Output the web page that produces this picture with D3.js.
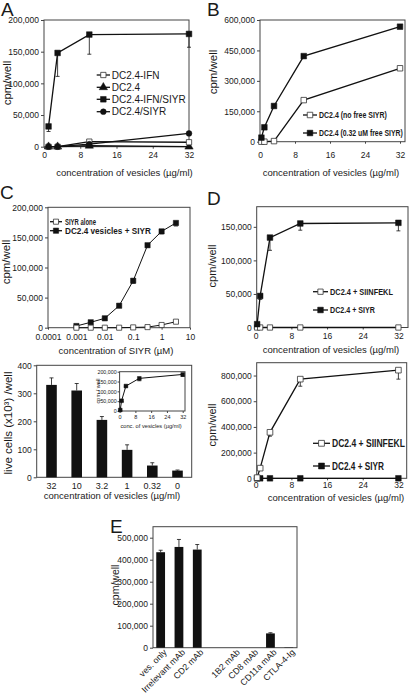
<!DOCTYPE html>
<html><head><meta charset="utf-8">
<script src="https://cdn.jsdelivr.net/npm/d3@7"></script>
<style>
body{margin:0;background:#fff;}
text{font-family:"Liberation Sans",Arial,sans-serif;fill:#1a1a1a;}
</style></head>
<body>
<script>
// ---------- DATA ----------
// Panel A
const aX = [1, 3, 10, 32];
const aIFN = [0, 0, 8000, 7000];
const aDC = [0, 0, 1500, 0];
const aIFNSIYR = [32000, 148000, 177000, 178000];
const aIFNSIYRerr = [8000, 37000, 31000, 21000];
const aSIYR = [0, 0, 4000, 21000];
const aLegend = ["DC2.4-IFN", "DC2.4", "DC2.4-IFN/SIYR", "DC2.4/SIYR"];
// Panel B
const bX = [0.32, 1, 3.2, 10, 32];
const bNoFree = [0, 0, 3000, 205000, 362000];
const bNoFreeErr = [0, 0, 0, 8000, 10000];
const bFree = [20000, 71000, 176000, 422000, 567000];
const bLegend = ["DC2.4 (no free SIYR)", "DC2.4 (0.32 uM free SIYR)"];
// Panel C (top)
const cX = [0.001, 0.0032, 0.01, 0.032, 0.1, 0.32, 1, 3.2];
const cAlone = [0, 0, 0, 0, 500, 1000, 4500, 10000];
const cVes = [2800, 9000, 15600, 36500, 78000, 137000, 160000, 174000];
const cVesErr = [500, 1000, 1000, 2000, 4000, 3000, 4000, 5000];
const cLegend = ["SIYR alone", "DC2.4 vesicles + SIYR"];
const cXTicks = [0.0001, 0.001, 0.01, 0.1, 1, 10];
const cXTickLabels = ["0.0001", "0.001", "0.01", "0.1", "1", "10"];
// Panel C (bottom bars)
const cBarCats = ["32", "10", "3.2", "1", "0.32", "0"];
const cBarVals = [330, 310, 205, 98, 42, 24];
const cBarErr = [25, 25, 12, 18, 10, 2];
// Inset
const inX = [0.32, 1, 3.2, 10, 32];
const inVals = [5000, 52000, 127000, 166000, 186000];
const inErr = [2000, 3000, 4000, 12000, 10000];
// Panel D (top)
const dX = [0.32, 1, 3.2, 10, 32];
const dSIINFEKL = [0, 0, 0, 0, 0];
const dSIYR = [5000, 47000, 134000, 155000, 156000];
const dSIYRerr = [1000, 5000, 19000, 10000, 12000];
// Panel D (bottom)
const d2SIINFEKL = [5000, 79000, 358000, 772000, 842000];
const d2SIINFEKLerr = [2000, 15000, 30000, 55000, 70000];
const d2SIYR = [0, 0, 0, 0, 0];
const dLegend = ["DC2.4 + SIINFEKL", "DC2.4 + SIYR"];
// Panel E
const eCats = ["ves. only", "Irrelevant mAb", "CD2 mAb", "", "1B2 mAb", "CD8 mAb", "CD11a mAb", "CTLA-4-Ig"];
const eVals = [434000, 458000, 446000, null, 0, 0, 65000, 1500];
const eErr = [9000, 34000, 23000, null, 0, 0, 3000, 0];

const linTicks = [0, 8, 16, 24, 32];
const xTitleVes = "concentration of vesicles (\u00b5g/ml)";

// ---------- DRAW ----------
const svg = d3.select("body").append("svg").attr("width", 410).attr("height", 696);
const fmt = d3.format(",");
const INK = "#111";

function frame(g, l, r, t, b) {
  g.append("rect").attr("x", l).attr("y", t).attr("width", r - l).attr("height", b - t)
    .attr("fill", "none").attr("stroke", "#444").attr("stroke-width", 1);
}
function styleAxis(sel, fs) {
  sel.select(".domain").remove();
  sel.selectAll("line").attr("stroke", "#444");
  sel.selectAll("text").attr("font-size", fs).attr("fill", "#1a1a1a")
    .style("font-family", '"Liberation Sans",Arial,sans-serif');
}
function symbolPath(kind, size) {
  const t = kind === "tri" ? d3.symbolTriangle : kind === "circle" ? d3.symbolCircle : d3.symbolSquare;
  return d3.symbol().type(t).size(size)();
}
function drawSeries(g, x, y, xs, ys, opt) {
  const pts = xs.map((d, i) => [x(d), y(ys[i])]);
  g.append("path").attr("d", d3.line()(pts)).attr("fill", "none")
    .attr("stroke", INK).attr("stroke-width", opt.lw || 1.3);
  if (opt.err) {
    opt.err.forEach((e, i) => {
      if (!e) return;
      const px = x(xs[i]), y0 = y(ys[i]), y1 = y(ys[i] - e);
      g.append("line").attr("x1", px).attr("x2", px).attr("y1", y0).attr("y2", y1).attr("stroke", INK).attr("stroke-width", 0.8);
      g.append("line").attr("x1", px - 2).attr("x2", px + 2).attr("y1", y1).attr("y2", y1).attr("stroke", INK).attr("stroke-width", 0.8);
    });
  }
  pts.forEach(p => {
    g.append("path").attr("d", symbolPath(opt.sym, opt.size || 30))
      .attr("transform", `translate(${p[0]},${p[1]})`)
      .attr("fill", opt.open ? "#fff" : INK).attr("stroke", opt.open ? "#333" : INK).attr("stroke-width", opt.open ? 0.8 : 0.5);
  });
}
function legendItem(g, x1, x2, yy, opt, label, tx, fs, bold, tlen) {
  g.append("line").attr("x1", x1).attr("x2", x2).attr("y1", yy).attr("y2", yy).attr("stroke", INK).attr("stroke-width", 1.3);
  g.append("path").attr("d", symbolPath(opt.sym, opt.size || 30)).attr("transform", `translate(${(x1 + x2) / 2},${yy})`)
    .attr("fill", opt.open ? "#fff" : INK).attr("stroke", opt.open ? "#333" : INK).attr("stroke-width", opt.open ? 0.8 : 0.5);
  const t = g.append("text").attr("x", 0).attr("y", 0).attr("dy", "0.35em").attr("font-size", fs)
    .attr("font-weight", bold ? "bold" : "normal").text(label)
    .attr("transform", `translate(${tx},${yy})`);
  if (tlen) {
    const w = t.node().getComputedTextLength();
    t.attr("transform", `translate(${tx},${yy}) scale(${tlen / w},1)`);
  }
}
function yTitle(g, x, y, label, fs) {
  g.append("text").attr("transform", `translate(${x},${y}) rotate(-90)`).attr("text-anchor", "middle")
    .attr("dy", "0.35em").attr("font-size", fs).text(label);
}
function xTitle(g, x, y, label, fs) {
  g.append("text").attr("x", x).attr("y", y).attr("text-anchor", "middle").attr("font-size", fs).text(label);
}
function letter(x, y, L) {
  svg.append("text").attr("x", x).attr("y", y).attr("font-size", 19).text(L);
}

// ===== Panel A =====
{
  const g = svg.append("g");
  const L = 44, R = 189, T = 20, B = 146.7;
  const x = d3.scaleLinear().domain([0, 32]).range([L, 189]);
  const y = d3.scaleLinear().domain([0, 200000]).range([B, T]);
  frame(g, L, R, T, B);
  g.append("g").attr("transform", `translate(${L},0)`).call(d3.axisLeft(y).tickValues([0, 50000, 100000, 150000, 200000]).tickFormat(fmt).tickSize(3).tickPadding(2)).call(s => styleAxis(s, 8.5));
  g.append("g").attr("transform", `translate(0,${B})`).call(d3.axisBottom(x).tickValues(linTicks).tickSize(2).tickPadding(3)).call(s => styleAxis(s, 8.5));
  drawSeries(g, x, y, aX, aDC, { sym: "tri", size: 30 });
  drawSeries(g, x, y, aX, aIFN, { sym: "square", open: true, size: 28 });
  drawSeries(g, x, y, aX, aSIYR, { sym: "circle", size: 26 });
  drawSeries(g, x, y, aX, aIFNSIYR, { sym: "square", size: 32, err: aIFNSIYRerr });
  const ly = [75, 87.3, 99.3, 111.7];
  const lo = [{ sym: "square", open: true, size: 28 }, { sym: "tri", size: 30 }, { sym: "square", size: 32 }, { sym: "circle", size: 26 }];
  aLegend.forEach((t, i) => legendItem(g, 96.7, 110, ly[i], lo[i], t, 111.7, 10, false));
  yTitle(g, 7, 83, "cpm/well", 11.5);
  xTitle(g, 124.5, 176, xTitleVes, 9.5);
  letter(1, 16, "A");
}
// ===== Panel B =====
{
  const g = svg.append("g");
  const L = 260, R = 405, T = 20, B = 141.7;
  const x = d3.scaleLinear().domain([0, 32]).range([L, 400]);
  const y = d3.scaleLinear().domain([0, 600000]).range([B, T]);
  frame(g, L, R, T, B);
  g.append("g").attr("transform", `translate(${L},0)`).call(d3.axisLeft(y).tickValues([0, 150000, 300000, 450000, 600000]).tickFormat(fmt).tickSize(3).tickPadding(2)).call(s => styleAxis(s, 8.5));
  g.append("g").attr("transform", `translate(0,${B})`).call(d3.axisBottom(x).tickValues(linTicks).tickSize(2).tickPadding(8)).call(s => styleAxis(s, 8.5));
  drawSeries(g, x, y, bX, bNoFree, { sym: "square", open: true, size: 30, err: bNoFreeErr });
  drawSeries(g, x, y, bX, bFree, { sym: "square", size: 32 });
  legendItem(g, 303, 317, 115, { sym: "square", open: true, size: 30 }, bLegend[0], 319, 9, true, 68);
  legendItem(g, 303, 317, 133, { sym: "square", size: 32 }, bLegend[1], 319, 9, true, 84);
  yTitle(g, 213, 72, "cpm/well", 11.5);
  xTitle(g, 331, 176, xTitleVes, 9.5);
  letter(207, 16, "B");
}
// ===== Panel C top =====
{
  const g = svg.append("g");
  const L = 48, R = 190, T = 207.3, B = 327.7;
  const x = d3.scaleLog().domain([0.0001, 10]).range([L, R]);
  const y = d3.scaleLinear().domain([0, 200000]).range([B, T]);
  frame(g, L, R, T, B);
  g.append("g").attr("transform", `translate(${L},0)`).call(d3.axisLeft(y).tickValues([0, 50000, 100000, 150000, 200000]).tickFormat(fmt).tickSize(3).tickPadding(2)).call(s => styleAxis(s, 8.5));
  g.append("g").attr("transform", `translate(0,${B})`).call(d3.axisBottom(x).tickValues(cXTicks).tickFormat((d, i) => cXTickLabels[i]).tickSize(2).tickPadding(4)).call(s => styleAxis(s, 8.5));
  drawSeries(g, x, y, cX, cVes, { sym: "square", size: 28, lw: 1, err: cVesErr });
  drawSeries(g, x, y, cX, cAlone, { sym: "square", open: true, size: 26, lw: 1 });
  legendItem(g, 50, 62, 221.7, { sym: "square", open: true, size: 26 }, cLegend[0], 65, 8.5, true, 31);
  legendItem(g, 50, 62, 230.7, { sym: "square", size: 28 }, cLegend[1], 65, 8.5, true, 86);
  yTitle(g, 6, 262, "cpm/well", 11.5);
  xTitle(g, 116, 354, "concentration of SIYR (\u00b5M)", 9.5);
  letter(0, 199, "C");
}
// ===== Panel C bottom (bars) =====
{
  const g = svg.append("g");
  const L = 36.7, R = 191.7, T = 365.3, B = 477.3;
  const x = d3.scaleBand().domain(cBarCats).range([38.9, 190.1]).paddingInner(0.58).paddingOuter(0.29);
  const y = d3.scaleLinear().domain([0, 400]).range([B, T]);
  frame(g, L, R, T, B);
  g.append("g").attr("transform", `translate(${L},0)`).call(d3.axisLeft(y).tickValues([0, 100, 200, 300, 400]).tickSize(3).tickPadding(2)).call(s => styleAxis(s, 8.5));
  g.append("g").attr("transform", `translate(0,${B})`).call(d3.axisBottom(x).tickSize(0).tickPadding(5)).call(s => styleAxis(s, 9));
  cBarCats.forEach((c, i) => {
    const cx = x(c) + x.bandwidth() / 2;
    g.append("line").attr("x1", cx).attr("x2", cx).attr("y1", y(cBarVals[i])).attr("y2", y(cBarVals[i] + cBarErr[i])).attr("stroke", INK).attr("stroke-width", 0.8);
    g.append("line").attr("x1", cx - 2).attr("x2", cx + 2).attr("y1", y(cBarVals[i] + cBarErr[i])).attr("y2", y(cBarVals[i] + cBarErr[i])).attr("stroke", INK).attr("stroke-width", 0.8);
    g.append("rect").attr("x", x(c)).attr("width", x.bandwidth()).attr("y", y(cBarVals[i])).attr("height", B - y(cBarVals[i])).attr("fill", INK);
  });
  yTitle(g, 8, 423, "live cells (x10\u00b3) /well", 11.5);
  xTitle(g, 112, 499, xTitleVes, 9.5);
  // inset
  const iL = 119.6, iR = 185, iT = 371.7, iB = 411;
  const ix = d3.scaleLinear().domain([0, 32]).range([iL, 182.7]);
  const iy = d3.scaleLinear().domain([0, 200000]).range([iB, iT]);
  frame(g, iL, iR, iT, iB);
  g.append("g").attr("transform", `translate(${iL},0)`).call(d3.axisLeft(iy).tickValues([0, 50000, 100000, 150000, 200000]).tickFormat(fmt).tickSize(2).tickPadding(1)).call(s => styleAxis(s, 5.3));
  g.append("g").attr("transform", `translate(0,${iB})`).call(d3.axisBottom(ix).tickValues(linTicks).tickSize(2).tickPadding(2)).call(s => styleAxis(s, 5.5));
  drawSeries(g, ix, iy, inX, inVals, { sym: "square", size: 14, lw: 1, err: inErr });
  yTitle(g, 98, 391, "cpm / well", 5.6);
  xTitle(g, 151, 428, "conc. of vesicles (\u00b5g/ml)", 5.7);
}
// ===== Panel D top =====
{
  const g = svg.append("g");
  const L = 256.7, R = 408, T = 206.7, B = 327.5;
  const x = d3.scaleLinear().domain([0, 32]).range([255.7, 398.4]);
  const y = d3.scaleLinear().domain([0, 180000]).range([B, T]);
  frame(g, L, R, T, B);
  g.append("g").attr("transform", `translate(${L},0)`).call(d3.axisLeft(y).tickValues([0, 50000, 100000, 150000]).tickFormat(fmt).tickSize(3).tickPadding(2)).call(s => styleAxis(s, 8.5));
  g.append("g").attr("transform", `translate(0,${B})`).call(d3.axisBottom(x).tickValues(linTicks).tickSize(2).tickPadding(3)).call(s => styleAxis(s, 8.5));
  drawSeries(g, x, y, dX, dSIINFEKL, { sym: "square", open: true, size: 28 });
  drawSeries(g, x, y, dX, dSIYR, { sym: "square", size: 32, err: dSIYRerr });
  legendItem(g, 313, 328, 291.7, { sym: "square", open: true, size: 28 }, dLegend[0], 330, 8.5, true, 63);
  legendItem(g, 313, 328, 310, { sym: "square", size: 32 }, dLegend[1], 330, 8.5, true, 45);
  yTitle(g, 212, 266, "cpm/well", 11);
  xTitle(g, 331, 353, xTitleVes, 9.5);
  letter(207, 205, "D");
}
// ===== Panel D bottom =====
{
  const g = svg.append("g");
  const L = 256.7, R = 406.7, T = 362.7, B = 478.3;
  const x = d3.scaleLinear().domain([0, 32]).range([255.7, 398.4]);
  const y = d3.scaleLinear().domain([0, 900000]).range([B, T]);
  frame(g, L, R, T, B);
  g.append("g").attr("transform", `translate(${L},0)`).call(d3.axisLeft(y).tickValues([0, 200000, 400000, 600000, 800000]).tickFormat(fmt).tickSize(3).tickPadding(2)).call(s => styleAxis(s, 8.5));
  g.append("g").attr("transform", `translate(0,${B})`).call(d3.axisBottom(x).tickValues(linTicks).tickSize(2).tickPadding(1.5)).call(s => styleAxis(s, 8.5));
  drawSeries(g, x, y, dX, d2SIYR, { sym: "square", size: 32 });
  drawSeries(g, x, y, dX, d2SIINFEKL, { sym: "square", open: true, size: 32, err: d2SIINFEKLerr });
  legendItem(g, 313, 330, 443.3, { sym: "square", open: true, size: 34 }, dLegend[0], 332, 10, true, 73);
  legendItem(g, 313, 330, 466, { sym: "square", size: 36 }, dLegend[1], 332, 10, true, 52);
  yTitle(g, 212, 425, "cpm/well", 11);
  xTitle(g, 336, 501, xTitleVes, 9.5);
}
// ===== Panel E =====
{
  const g = svg.append("g");
  const L = 153, R = 297, T = 526.7, B = 647.7;
  const x = d3.scaleBand().domain(eCats).range([151.5, 297.9]).paddingInner(0.52).paddingOuter(0.26);
  const y = d3.scaleLinear().domain([0, 550000]).range([B, T]);
  frame(g, L, R, T, B);
  g.append("g").attr("transform", `translate(${L},0)`).call(d3.axisLeft(y).tickValues([0, 100000, 200000, 300000, 400000, 500000]).tickFormat(fmt).tickSize(3).tickPadding(2)).call(s => styleAxis(s, 8.5));
  eCats.forEach((c, i) => {
    const cx = x(c) + x.bandwidth() / 2;
    if (eVals[i] !== null) {
      if (eErr[i]) {
        g.append("line").attr("x1", cx).attr("x2", cx).attr("y1", y(eVals[i])).attr("y2", y(eVals[i] + eErr[i])).attr("stroke", INK).attr("stroke-width", 0.8);
        g.append("line").attr("x1", cx - 2).attr("x2", cx + 2).attr("y1", y(eVals[i] + eErr[i])).attr("y2", y(eVals[i] + eErr[i])).attr("stroke", INK).attr("stroke-width", 0.8);
      }
      g.append("rect").attr("x", x(c)).attr("width", x.bandwidth()).attr("y", y(eVals[i])).attr("height", B - y(eVals[i])).attr("fill", INK);
    }
    if (c) {
      g.append("text").attr("transform", `translate(${cx + 4.5},${B + 3}) rotate(-45)`).attr("text-anchor", "end")
        .attr("dy", "0.35em").attr("font-size", 8.8).text(c);
    }
  });
  yTitle(g, 115, 585, "cpm/well", 10.5);
  letter(110, 533, "E");
}
</script>
</body></html>
